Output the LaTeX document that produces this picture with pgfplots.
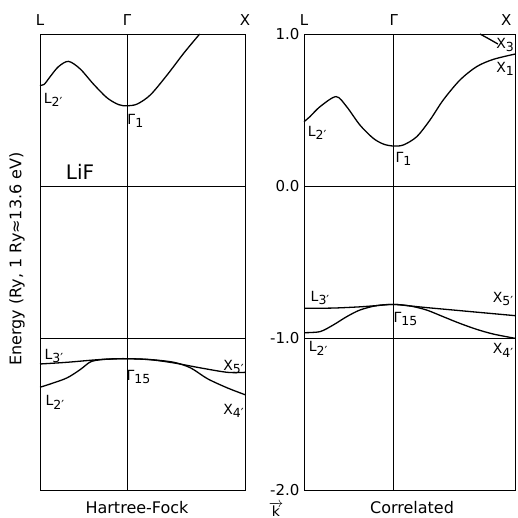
\documentclass[border=0pt]{standalone}
\usepackage{pgfplots}
\pgfplotsset{compat=1.18}
\usepackage{fontspec}
\setmainfont{DejaVu Sans}
\newcommand{\lab}[2]{#1\raisebox{-0.5ex}{\fontsize{12.5}{13}\selectfont #2}}
\tikzset{lbl/.style={font=\fontsize{14}{16}\selectfont, inner sep=0pt}}
\begin{document}
\begin{tikzpicture}[font=\fontsize{15}{17}\selectfont]
\path[use as bounding box] (0,0) rectangle (518pt,518pt);
\pgfplotsset{
  bandaxis/.style={
    scale only axis, height=456pt,
    xmin=0, xmax=1, ymin=-2, ymax=1,
    axis line style={line width=0.9pt},
    xtick={0,0.425,1}, xticklabels={L,Γ,X},
    xticklabel pos=upper,
    xticklabel style={yshift=5pt, font=\fontsize{15}{17}\selectfont},
    major tick length=0pt,
    xmajorgrids, ymajorgrids,
    grid style={black, line width=0.7pt},
    /pgf/number format/assume math mode=true,
    clip=false,
  },
  band/.style={black, line width=1.3pt, smooth, tension=0.5, no marks},
}
% ---------------- Hartree-Fock ----------------
\begin{axis}[bandaxis, width=205pt, at={(40pt,28pt)}, anchor=south west,
  ytick={-1,0}, yticklabels={}]
\addplot[band] coordinates {(0,0.663) (0.02,0.668) (0.05,0.72) (0.09,0.785) (0.139,0.82) (0.196,0.77) (0.261,0.67) (0.327,0.58) (0.384,0.535) (0.425,0.528) (0.474,0.539) (0.539,0.6) (0.621,0.732) (0.702,0.875) (0.779,1.0)};
% L3' -> Gamma15 -> X5'
\addplot[band] coordinates {(0,-1.171) (0.13,-1.16) (0.26,-1.145) (0.34,-1.138) (0.425,-1.136) (0.539,-1.143) (0.653,-1.164) (0.784,-1.197) (0.915,-1.226) (1,-1.226)};
% L2' -> Gamma15 -> X4'
\addplot[band] coordinates {(0,-1.324) (0.049,-1.303) (0.131,-1.263) (0.196,-1.208) (0.245,-1.158) (0.294,-1.143) (0.36,-1.138) (0.425,-1.136) (0.539,-1.142) (0.653,-1.16) (0.735,-1.197) (0.817,-1.268) (0.915,-1.329) (1,-1.373)};
\node[lbl] at (axis cs:0.064,0.566) {\lab{L}{2′}};
\node[lbl] at (axis cs:0.465,0.428) {\lab{Γ}{1}};
\node[inner sep=0pt, font=\fontsize{20}{22}\selectfont] at (axis cs:0.195,0.092) {LiF};
\node[lbl] at (axis cs:0.068,-1.118) {\lab{L}{3′}};
\node[lbl] at (axis cs:0.073,-1.421) {\lab{L}{2′}};
\node[lbl] at (axis cs:0.48,-1.257) {\lab{Γ}{15}};
\node[lbl] at (axis cs:0.944,-1.191) {\lab{X}{5′}};
\node[lbl] at (axis cs:0.944,-1.48) {\lab{X}{4′}};
\end{axis}
% ---------------- Correlated ----------------
\begin{axis}[bandaxis, width=211pt, at={(304pt,28pt)}, anchor=south west,
  ytick={-2,-1,0,1}, yticklabels={-2.0,-1.0,0.0,1.0},
  xticklabels={L,Γ,\llap{X}\hphantom{X}\kern-3pt},
  yticklabel style={font=\fontsize{15}{17}\selectfont, xshift=-1pt}]
\addplot[band] coordinates {(0,0.423) (0.028,0.456) (0.076,0.522) (0.152,0.588) (0.202,0.522) (0.265,0.401) (0.328,0.314) (0.376,0.276) (0.423,0.263) (0.471,0.27) (0.534,0.324) (0.597,0.434) (0.66,0.566) (0.739,0.697) (0.818,0.785) (0.897,0.833) (1,0.868)};
\addplot[band] coordinates {(0.834,1.0) (0.88,0.965) (0.919,0.934)};
% L3' -> Gamma15 -> X5'
\addplot[band] coordinates {(0,-0.805) (0.139,-0.803) (0.265,-0.795) (0.344,-0.787) (0.423,-0.779) (0.502,-0.789) (0.581,-0.80) (0.66,-0.81) (0.739,-0.82) (0.818,-0.83) (0.897,-0.84) (1,-0.853)};
% L2' -> Gamma15 -> X4'
\addplot[band] coordinates {(0,-0.965) (0.076,-0.958) (0.139,-0.914) (0.202,-0.86) (0.265,-0.816) (0.344,-0.787) (0.423,-0.779) (0.502,-0.789) (0.581,-0.816) (0.66,-0.86) (0.739,-0.904) (0.818,-0.943) (0.897,-0.974) (1,-1.002)};
\node[lbl] at (axis cs:0.953,0.928) {\lab{X}{3}};
\node[lbl] at (axis cs:0.953,0.77) {\lab{X}{1}};
\node[lbl] at (axis cs:0.062,0.349) {\lab{L}{2′}};
\node[lbl] at (axis cs:0.471,0.178) {\lab{Γ}{1}};
\node[lbl] at (axis cs:0.076,-0.737) {\lab{L}{3′}};
\node[lbl] at (axis cs:0.481,-0.875) {\lab{Γ}{15}};
\node[lbl] at (axis cs:0.943,-0.743) {\lab{X}{5′}};
\node[lbl] at (axis cs:0.067,-1.066) {\lab{L}{2′}};
\node[lbl] at (axis cs:0.943,-1.079) {\lab{X}{4′}};
\end{axis}
\node[font=\fontsize{16}{18}\selectfont] at (137pt,10pt) {Hartree-Fock};
\node[font=\fontsize{16}{18}\selectfont] at (412pt,10pt) {Correlated};
\node[font=\fontsize{14}{15}\selectfont, inner sep=0pt, anchor=south] at (276pt,1pt) {$\overrightarrow{\mbox{k}}$};
\node[rotate=90, font=\fontsize{16}{18}\selectfont] at (17pt,259pt) {Energy (Ry, 1 Ry≈13.6 eV)};
\end{tikzpicture}
\end{document}
